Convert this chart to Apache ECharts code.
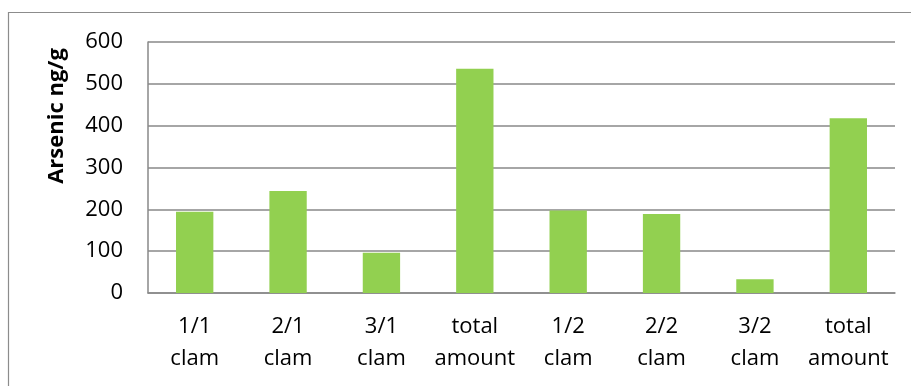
<!DOCTYPE html>
<html>
<head>
<meta charset="utf-8">
<script src="https://cdn.jsdelivr.net/npm/echarts@6/dist/echarts.min.js"></script>
<style>
  html, body { margin: 0; padding: 0; background: #fff; }
  #chart { width: 911px; height: 386px; }
</style>
</head>
<body>
<div id="chart"></div>
<script>
// Arsenic content per clam sample and the summed totals
const categories = ['1/1 clam', '2/1 clam', '3/1 clam', 'total amount',
                    '1/2 clam', '2/2 clam', '3/2 clam', 'total amount'];
const arsenicValues = [194, 244, 96, 536, 197, 189, 33, 418];
const yTicks = { min: 0, max: 600, interval: 100 };
const yTitle = 'Arsenic ng/g';

const FONT = 'Open Sans';
const GRID_GREY = '#898989';

const chart = echarts.init(document.getElementById('chart'), null, { renderer: 'canvas' });

chart.setOption({
  animation: false,
  backgroundColor: '#ffffff',
  grid: { left: 148, right: 16, top: 42, bottom: 93, containLabel: false },
  graphic: [
    {
      type: 'rect',
      shape: { x: 8.5, y: 12.5, width: 1000, height: 1000 },
      style: { fill: 'none', stroke: '#8c8c8c', lineWidth: 1.2 },
      silent: true
    },
    {
      type: 'text',
      x: 57,
      y: 116,
      rotation: Math.PI / 2,
      style: {
        text: yTitle,
        fontFamily: FONT,
        fontSize: 22,
        fontWeight: 'bold',
        fill: '#000',
        align: 'center',
        verticalAlign: 'middle'
      }
    }
  ],
  xAxis: {
    type: 'category',
    data: categories,
    axisLine: { show: true, lineStyle: { color: GRID_GREY, width: 1.5 } },
    axisTick: { show: false },
    axisLabel: {
      interval: 0,
      margin: 18,
      fontFamily: FONT,
      fontSize: 22,
      lineHeight: 32,
      color: '#000',
      formatter: (v) => v.replace(' ', '\n')
    }
  },
  yAxis: {
    type: 'value',
    min: yTicks.min,
    max: yTicks.max,
    interval: yTicks.interval,
    axisLine: { show: true, lineStyle: { color: GRID_GREY, width: 1.5 } },
    axisTick: { show: false },
    splitLine: { show: true, lineStyle: { color: GRID_GREY, width: 1.5 } },
    axisLabel: {
      margin: 25,
      fontFamily: FONT,
      fontSize: 22,
      color: '#000'
    }
  },
  series: [
    {
      type: 'bar',
      data: arsenicValues,
      barWidth: '40%',
      itemStyle: { color: '#92D050' }
    }
  ]
});
</script>
</body>
</html>
